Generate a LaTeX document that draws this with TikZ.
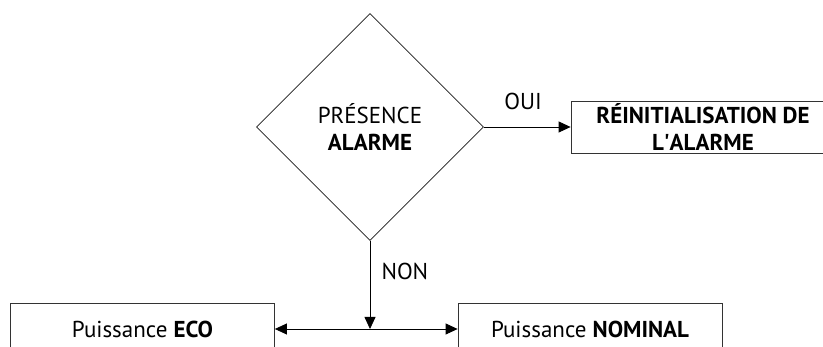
\documentclass[tikz,border=0pt]{standalone}
\usepackage{fontspec}
\setmainfont{PT Sans}
\usetikzlibrary{shapes.geometric,arrows.meta}
\tikzset{
  boite/.style={draw=black!80,line width=0.8pt,minimum width=264pt,minimum height=52pt,inner sep=0pt,align=center},
  test/.style={draw=black!90,line width=0.8pt,diamond,minimum size=227pt,inner sep=0pt,align=center},
}
\begin{document}
\begin{tikzpicture}[x=1pt,y=-1pt,>={Triangle[length=12pt,width=11pt]},font=\fontsize{23}{27}\selectfont]
\clip (0,0) rectangle (823,347);
\node[test] (alarme) at (370,127) {PRÉSENCE\\\textbf{ALARME}};
\node[boite] (reinit) at (703,127) {\textbf{RÉINITIALISATION DE}\\\textbf{L\textquotesingle ALARME}};
\node[boite] (eco) at (142.5,329) {Puissance \textbf{ECO}};
\node[boite] (nominal) at (590,329) {Puissance \textbf{NOMINAL}};
\coordinate (j) at (370,329);

\draw[->,line width=0.8pt] (alarme.east) -- (reinit.west);
\node (oui) at (523,101) {OUI};
\draw[->,line width=0.8pt] (alarme.south) -- (j);
\node[anchor=west] (non) at (378,271) {NON};
\draw[<->,line width=0.8pt] (eco.east) -- (nominal.west);
\end{tikzpicture}
\end{document}
